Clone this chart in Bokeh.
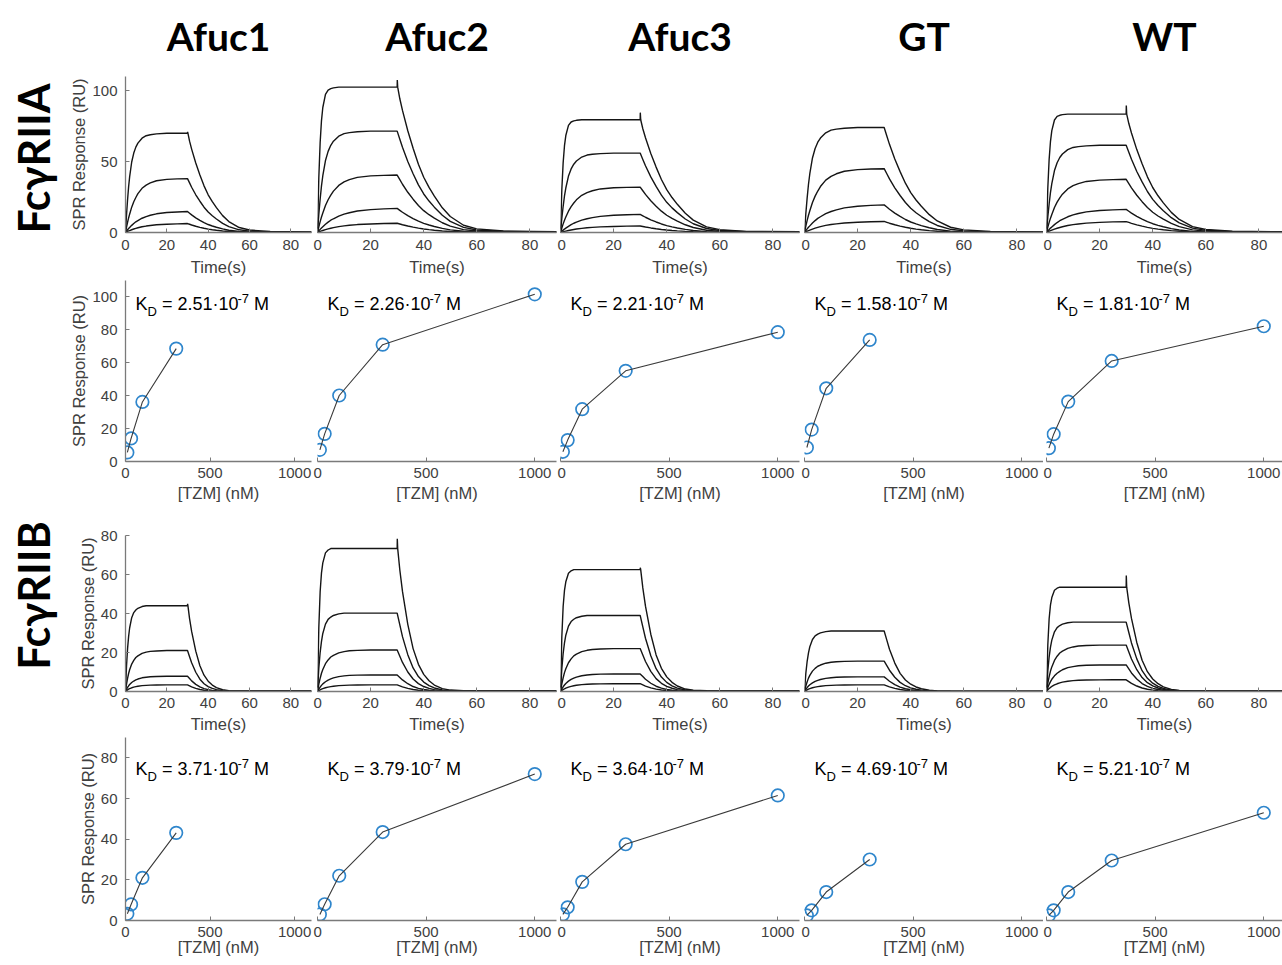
import numpy as np
from bokeh.plotting import figure
from bokeh.layouts import row, column
from bokeh.models import Range1d, Label, FixedTicker
from bokeh.embed import file_html
from bokeh.resources import INLINE
from bokeh.core.properties import value

# ---------------- data ----------------
samples = ["Afuc1", "Afuc2", "Afuc3", "GT", "WT"]
receptors = ["FcγRIIA", "FcγRIIB"]
conc_4 = [11, 33, 100, 300]
conc_5 = [11, 33, 100, 300, 1000]

kd_IIA = ["2.51", "2.26", "2.21", "1.58", "1.81"]
kd_IIB = ["3.71", "3.79", "3.64", "4.69", "5.21"]

# equilibrium response (RU) vs [TZM]
eq_IIA_Afuc1 = [5.5, 14.0, 36.2, 68.6]
eq_IIA_Afuc2 = [7.1, 16.8, 40.1, 71.0, 101.6]
eq_IIA_Afuc3 = [5.9, 13.0, 31.8, 55.1, 78.6]
eq_IIA_GT = [8.5, 19.4, 44.5, 73.9]
eq_IIA_WT = [8.1, 16.6, 36.4, 61.1, 82.2]

eq_IIB_Afuc1 = [3.3, 7.9, 21.0, 43.1]
eq_IIB_Afuc2 = [3.0, 8.0, 22.0, 43.5, 72.0]
eq_IIB_Afuc3 = [3.0, 6.5, 19.0, 37.5, 61.5]
eq_IIB_GT = [2.5, 5.0, 14.0, 30.0]
eq_IIB_WT = [2.5, 5.0, 14.0, 29.5, 53.0]

# sensorgram response at end of injection (RU), per concentration
plat_IIA_Afuc1 = [6.3, 14.8, 38.0, 70.0]
plat_IIA_Afuc2 = [6.5, 17.0, 40.5, 71.5, 102.5]
plat_IIA_Afuc3 = [4.6, 12.8, 32.0, 56.0, 79.5]
plat_IIA_GT = [7.8, 19.5, 45.0, 74.0]
plat_IIA_WT = [7.7, 16.3, 37.5, 61.5, 83.5]

plat_IIB_Afuc1 = [3.4, 7.8, 21.0, 44.0]
plat_IIB_Afuc2 = [3.4, 8.5, 21.3, 40.2, 73.3]
plat_IIB_Afuc3 = [4.0, 9.0, 22.0, 39.0, 62.5]
plat_IIB_GT = [3.4, 7.5, 15.6, 31.0]
plat_IIB_WT = [6.0, 13.6, 23.8, 35.6, 53.5]

# injection-end spike on the highest curve (RU)
spike_IIA = [1.0, 5.0, 5.0, 0.0, 6.0]
spike_IIB = [1.0, 5.0, 1.0, 0.0, 6.0]

# normalised association traces (fraction of end value)
t_assoc = [0, 0.5, 1, 1.5, 2, 3, 4, 5, 6, 8, 10, 12, 15, 20, 25, 30]
assoc_IIA_1000 = [0, .38, .62, .77, .86, .95, .98, .99, .995, 1, 1, 1, 1, 1, 1, 1]
assoc_IIA_300 = [0, .18, .33, .46, .56, .71, .80, .86, .90, .95, .975, .985, .993, 1, 1, 1]
assoc_IIA_100 = [0, .10, .19, .27, .34, .47, .57, .65, .72, .82, .88, .92, .96, .985, .995, 1]
assoc_IIA_33 = [0, .07, .13, .19, .24, .34, .43, .51, .57, .68, .76, .82, .89, .95, .98, 1]
assoc_IIA_11 = [0, .06, .12, .17, .22, .31, .39, .46, .53, .64, .72, .78, .86, .93, .97, 1]

assoc_IIB_1000 = [0, .45, .70, .83, .90, .97, .99, 1, 1, 1, 1, 1, 1, 1, 1, 1]
assoc_IIB_300 = [0, .30, .50, .64, .74, .86, .92, .95, .97, .99, 1, 1, 1, 1, 1, 1]
assoc_IIB_100 = [0, .18, .32, .44, .53, .67, .76, .83, .87, .93, .96, .98, .99, 1, 1, 1]
assoc_IIB_33 = [0, .15, .27, .37, .46, .59, .69, .76, .82, .90, .94, .97, .99, 1, 1, 1]
assoc_IIB_11 = [0, .14, .25, .35, .43, .56, .66, .74, .80, .88, .93, .96, .98, .995, 1, 1]

# normalised dissociation traces (seconds after end of injection)
t_diss = [0, 1, 2, 4, 6, 8, 10, 12, 14, 17, 20, 25, 30, 40, 60]
diss_IIA = [1, .92, .84, .70, .58, .47, .38, .31, .25, .17, .11, .05, .025, .01, .006]
diss_IIB = [1, .85, .70, .47, .30, .19, .12, .075, .045, .02, .01, .006, .005, .005, .005]

t_ticks = [0, 20, 40, 60, 80]
c_ticks = [0, 500, 1000]

# ---------------- assembly ----------------
conc_of = {"Afuc1": conc_4, "Afuc2": conc_5, "Afuc3": conc_5, "GT": conc_4, "WT": conc_5}
eq = {
    "IIA": {"Afuc1": eq_IIA_Afuc1, "Afuc2": eq_IIA_Afuc2, "Afuc3": eq_IIA_Afuc3, "GT": eq_IIA_GT, "WT": eq_IIA_WT},
    "IIB": {"Afuc1": eq_IIB_Afuc1, "Afuc2": eq_IIB_Afuc2, "Afuc3": eq_IIB_Afuc3, "GT": eq_IIB_GT, "WT": eq_IIB_WT},
}
plat = {
    "IIA": {"Afuc1": plat_IIA_Afuc1, "Afuc2": plat_IIA_Afuc2, "Afuc3": plat_IIA_Afuc3, "GT": plat_IIA_GT, "WT": plat_IIA_WT},
    "IIB": {"Afuc1": plat_IIB_Afuc1, "Afuc2": plat_IIB_Afuc2, "Afuc3": plat_IIB_Afuc3, "GT": plat_IIB_GT, "WT": plat_IIB_WT},
}
assoc = {
    "IIA": {1000: assoc_IIA_1000, 300: assoc_IIA_300, 100: assoc_IIA_100, 33: assoc_IIA_33, 11: assoc_IIA_11},
    "IIB": {1000: assoc_IIB_1000, 300: assoc_IIB_300, 100: assoc_IIB_100, 33: assoc_IIB_33, 11: assoc_IIB_11},
}
diss = {"IIA": diss_IIA, "IIB": diss_IIB}
spikes = {"IIA": spike_IIA, "IIB": spike_IIB}
kds = {"IIA": kd_IIA, "IIB": kd_IIB}


def curve(rec, conc, end_val, spike):
    ts = list(t_assoc)
    ys = [end_val * f for f in assoc[rec][conc]]
    if spike:
        ts += [30.05, 30.2]
        ys += [end_val + spike, end_val]
    ts += [30 + d for d in t_diss[1:]]
    ys += [end_val * f for f in diss[rec][1:]]
    return ts, ys


# ---------------- layout ----------------
LABEL_W = 64
HEADER_H = 76
col_w = [249, 244, 244, 242, 239]
b_left = [61, 4, 3, 3, 3]
b_right = [2, 1, 2, 0, 0]
row_h = [202, 232, 225, 230]
b_top = [0, 2, 25, 2]
b_bot = [45, 49, 43, 45]
xlab_standoff = [5, 3, 4, -2]
frame_w = [col_w[i] - b_left[i] - b_right[i] for i in range(5)]
REF_W = 239.0

AX = "#7a7a7a"
TXT = "#404040"
TICK_FONT = "Liberation Sans"
BLUE = "#2f86cc"


def style_axes(p, ri, xticks, yticks, show_y):
    for ax in p.xaxis:
        ax.ticker = FixedTicker(ticks=xticks)
    if show_y:
        for ax in p.yaxis:
            ax.ticker = FixedTicker(ticks=yticks)
    for ax in p.axis:
        ax.axis_line_color = AX
        ax.axis_line_width = 1.3
        ax.major_tick_line_color = AX
        ax.major_tick_in = 4
        ax.major_tick_out = 0
        ax.minor_tick_line_color = None
        ax.major_label_text_color = TXT
        ax.major_label_text_font = TICK_FONT
        ax.major_label_text_font_size = "15px"
        ax.axis_label_text_font = TICK_FONT
        ax.axis_label_text_font_size = "16.5px"
        ax.axis_label_text_font_style = "normal"
        ax.axis_label_text_color = TXT
    for ax in p.xaxis:
        ax.major_label_standoff = 7 if ri == 0 else 6
        ax.axis_label_standoff = xlab_standoff[ri]
    if show_y:
        for ax in p.yaxis:
            ax.major_label_standoff = 8
            ax.axis_label_standoff = 1


def make_fig(ri, ci, xend, yend, xlabel, xticks, yticks):
    show_y = ci == 0
    p = figure(width=col_w[ci], height=row_h[ri],
               x_range=Range1d(0, xend), y_range=Range1d(0, yend),
               output_backend="svg", toolbar_location=None,
               y_axis_location="left" if show_y else None,
               min_border_left=b_left[ci], min_border_right=b_right[ci],
               min_border_top=b_top[ri], min_border_bottom=b_bot[ri])
    p.outline_line_color = None
    p.grid.visible = False
    if show_y:
        p.yaxis.axis_label = "SPR Response (RU)"
    p.xaxis.axis_label = xlabel
    p.background_fill_color = "white"
    p.border_fill_color = "white"
    style_axes(p, ri, xticks, yticks, show_y)
    return p


def kd_label(p, x, y, kd):
    f1, f2 = 18, 13
    sp = 0.278 * f1
    wK = 0.667 * f1
    wD = 0.722 * f2
    wmid = (0.584 + 0.278 + 0.556 * 3 + 0.278 + 0.278 + 0.556 * 2) * f1
    wexp = (0.333 + 0.556) * f2
    common = dict(x=x, y=y, text_font="Liberation Sans", text_color="black", text_baseline="alphabetic")
    p.add_layout(Label(text="K", text_font_size=f"{f1}px", **common))
    p.add_layout(Label(text="D", text_font_size=f"{f2}px", x_offset=wK, y_offset=-7, **common))
    x3 = wK + wD + sp
    p.add_layout(Label(text=f"= {kd}·10", text_font_size=f"{f1}px", x_offset=x3, **common))
    x4 = x3 + wmid
    p.add_layout(Label(text="-7", text_font_size=f"{f2}px", x_offset=x4, y_offset=6, **common))
    x5 = x4 + wexp + sp
    p.add_layout(Label(text="M", text_font_size=f"{f1}px", x_offset=x5, **common))


rows = []
for rk, rec in enumerate(["IIA", "IIB"]):
    ri_s = 2 * rk
    ri_f = 2 * rk + 1
    y_s = 110 if rec == "IIA" else 80
    y_f = 110 if rec == "IIA" else 90
    yt_s = [0, 50, 100] if rec == "IIA" else [0, 20, 40, 60, 80]
    yt_f = [0, 20, 40, 60, 80, 100] if rec == "IIA" else [0, 20, 40, 60, 80]
    kd_y = 95.5 if rec == "IIA" else 74.5
    sens_figs, fit_figs = [], []
    for ci, s in enumerate(samples):
        scale = frame_w[ci] / REF_W if ci == 4 else 1.0
        xs_end = 90 * scale
        xf_end = 1100 * scale
        p = make_fig(ri_s, ci, xs_end, y_s, "Time(s)", t_ticks, yt_s)
        concs = conc_of[s]
        vals = plat[rec][s]
        top = len(concs) - 1
        for k, (c, v) in enumerate(zip(concs, vals)):
            sp = spikes[rec][ci] if k == top else 0
            ts, ys = curve(rec, c, v, sp)
            p.line(ts, ys, line_color="#151515", line_width=1.4)
        sens_figs.append(p)

        q = make_fig(ri_f, ci, xf_end, y_f, "[TZM] (nM)", c_ticks, yt_f)
        q.scatter(concs, eq[rec][s], marker="circle", size=12.5, fill_color=None,
                  line_color=BLUE, line_width=1.7)
        q.line(concs, eq[rec][s], line_color="#3a3a3a", line_width=1.1)
        kd_label(q, 10 * xf_end / frame_w[ci], kd_y, kds[rec][ci])
        fit_figs.append(q)
    rows.append(row(*sens_figs))
    rows.append(row(*fit_figs))

# column headers, centred over each panel's plotting area
W = sum(col_w)
centres = []
acc = 0
for i in range(5):
    centres.append(acc + b_left[i] + frame_w[i] / 2)
    acc += col_w[i]
header = figure(width=W, height=HEADER_H, x_range=Range1d(0, W), y_range=Range1d(HEADER_H, 0),
                output_backend="svg", toolbar_location=None,
                x_axis_location=None, y_axis_location=None, min_border=0)
header.outline_line_color = None
header.grid.visible = False
header.text(x=centres, y=[35] * 5, text=samples, text_align="center", text_baseline="middle",
            text_font=value("Lato"), text_font_style="bold", text_font_size="39px",
            text_color="black")

H = HEADER_H + sum(row_h)
lab = figure(width=LABEL_W, height=H, x_range=Range1d(0, LABEL_W), y_range=Range1d(H, 0),
             output_backend="svg", toolbar_location=None,
             x_axis_location=None, y_axis_location=None, min_border=0)
lab.outline_line_color = None
lab.grid.visible = False
lab.text(x=[33, 33], y=[158, 595], text=receptors, angle=np.pi / 2,
         text_align="center", text_baseline="middle",
         text_font=value("Lato"), text_font_style="bold", text_font_size="43px",
         text_color="black")

layout = row(lab, column(header, *rows))
open("out.html", "w").write(file_html(layout, INLINE))
